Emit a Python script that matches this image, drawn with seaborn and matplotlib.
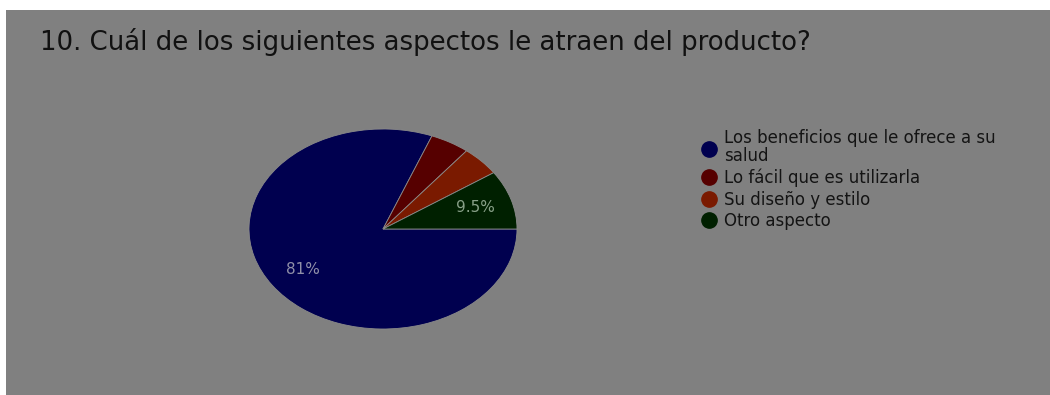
import matplotlib
matplotlib.use("Agg")
import matplotlib.pyplot as plt
from matplotlib.lines import Line2D
from matplotlib.patches import Rectangle
import seaborn as sns

# Survey answers (number of respondents per option)
categories = [
    "Los beneficios que le ofrece a su\nsalud",
    "Lo fácil que es utilizarla",
    "Su diseño y estilo",
    "Otro aspecto",
]
counts = [17, 1, 1, 2]
slice_colors = ["#00004f", "#560000", "#7a1a00", "#002000"]
title = "10. Cuál de los siguientes aspectos le atraen del producto?"

sns.set_style("white")
plt.rcParams["font.family"] = ["DejaVu Sans"]

W, H = 1050, 395
fig = plt.figure(figsize=(W / 100, H / 100), dpi=100, facecolor="white")

# grey panel behind the chart
fig.patches.append(Rectangle((6 / W, 0), 1 - 6 / W, (H - 10) / H,
                             transform=fig.transFigure, facecolor="#808080",
                             edgecolor="none", zorder=-10))

fig.text(40 / W, 1 - 42 / H, title, fontsize=18.7,
         color="#111111", va="center", ha="left")

ax = fig.add_axes([249 / W, (H - 329) / H, 268 / W, 200 / H])
ax.set_facecolor("none")


def pct_label(p):
    if p < 5:
        return ""
    return f"{p:.0f}%" if p >= 10 else f"{p:.1f}%"


wedges, texts, autotexts = ax.pie(
    counts, colors=slice_colors, startangle=0, counterclock=False,
    autopct=pct_label, pctdistance=0.72,
    wedgeprops=dict(edgecolor="#8a8a8a", linewidth=0.6),
    textprops=dict(fontsize=11),
)
autotexts[0].set_color("#9090a8")
autotexts[3].set_color("#88a088")
ax.set_aspect("auto")
ax.set_xlim(-1.0, 1.0)
ax.set_ylim(-1.0, 1.0)
ax.axis("off")

handles = [Line2D([], [], marker="o", linestyle="none", markersize=11,
                  markerfacecolor=c, markeredgecolor=c) for c in slice_colors]
leg = fig.legend(handles, categories, loc="upper left",
                 bbox_to_anchor=(692 / W, 1 - 121 / H), frameon=False,
                 fontsize=12, labelcolor="#141414", handletextpad=0.45,
                 labelspacing=0.2, handlelength=1.0, borderpad=0)
for t in leg.get_texts():
    t.set_linespacing(1.0)

fig.savefig("out.png", dpi=100, facecolor="white")
